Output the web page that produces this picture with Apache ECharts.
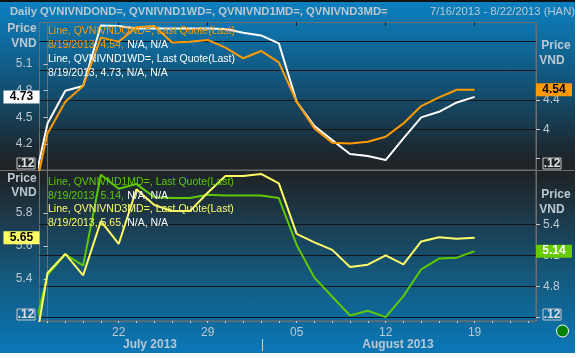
<!DOCTYPE html>
<html><head><meta charset="utf-8">
<script src="https://cdn.jsdelivr.net/npm/echarts@6/dist/echarts.min.js"></script>
<style>html,body{margin:0;padding:0;background:#fff}
#c{position:absolute;left:0;top:0;width:575px;height:353px;
background:linear-gradient(to bottom,#111 0,#111 2px,#0a80c0 2px,#0f6a9c 12%,#144a68 28%,#1c2a33 42%,#202224 48%,#1e2528 50%,#1c3a4c 62%,#14587c 78%,#0a78b8 100%)}</style>
</head><body><div id="c"></div>
<script>
const dates=['7/15','7/16','7/17','7/18','7/19','7/22','7/23','7/24','7/25','7/26','7/29','7/30','7/31','8/1','8/2','8/5','8/6','8/7','8/8','8/9','8/12','8/13','8/14','8/15','8/16','8/19','8/20','8/21','8/22'];
const tickLabels={ '7/22':'22','7/29':'29','8/5':'05','8/12':'12','8/19':'19' };
const ondValues=[2.835,3.945,4.377,4.591,5.251,5.196,5.392,5.41,5.183,5.196,5.219,5.114,4.969,5.069,4.914,4.377,4.013,3.818,3.808,3.831,3.899,4.081,4.318,4.436,4.54,4.54];
const w1Values=[3.517,4.432,4.80,4.852,5.534,5.527,5.50,5.50,5.50,5.50,5.50,5.493,5.452,5.422,5.332,4.676,4.402,4.244,4.087,4.065,4.02,4.263,4.50,4.563,4.668,4.73];
const m1Values=[4.2,4.91,5.11,5.0,5.877,5.742,5.787,5.661,5.652,5.652,5.684,5.677,5.677,5.677,5.652,5.2,4.884,4.7,4.519,4.565,4.503,4.706,4.965,5.068,5.077,5.14];
const m3Values=[4.789,5.435,5.551,5.421,5.751,5.612,5.945,5.849,5.812,5.812,5.924,6.026,6.026,6.038,5.981,5.673,5.622,5.576,5.472,5.486,5.543,5.488,5.627,5.653,5.643,5.65];
const seriesNames=['QVNIVNDOND=','QVNIVND1WD=','QVNIVND1MD=','QVNIVND3MD='];
const topGrid=[4,4.4,4.8,5.2], botGrid=[4.5,4.8,5.1,5.4];
const FONT='"Liberation Sans"',GREY='#bcc8d0';
const ORANGE='#ff9a00',WHITE='#ffffff',GREEN='#5fc800',YELLOW='#ffff66';
const XMIN=-0.45,XMAX=27.45;
const tickIdx=dates.slice(1).map((d,i)=>i);
const labelIdx=tickIdx.filter(i=>tickLabels[dates[i+1]]);
const xTop={type:'value',gridIndex:0,min:XMIN,max:XMAX,position:'top',splitLine:{show:false},
 axisLine:{show:false},axisTick:{show:true,inside:true,customValues:labelIdx,length:3,lineStyle:{color:'#111'}},axisLabel:{show:false}};
const xBot={type:'value',gridIndex:1,min:XMIN,max:XMAX,position:'bottom',splitLine:{show:false},
 axisLine:{show:true,onZero:false,lineStyle:{color:'#6e6e6e',width:1}},
 axisTick:{show:true,customValues:tickIdx,length:2,lineStyle:{color:'#d0d0d0'}},
 axisLabel:{show:true,customValues:labelIdx,color:GREY,fontFamily:FONT,fontSize:12,margin:6,formatter:v=>tickLabels[dates[v+1]]||''}};
function yAxis(gridIndex,pos,min,max,ticks,labels){return {type:'value',gridIndex,position:pos,min,max,
 axisLine:{show:true,lineStyle:{color:'#6e6e6e',width:1}},
 axisTick:{show:true,customValues:ticks,length:4,lineStyle:{color:'#c8c8c8'}},
 axisLabel:{show:true,customValues:labels,color:GREY,fontFamily:FONT,fontSize:12,margin:7,formatter:v=>String(v)},
 splitLine:{show:false}};}
function tag(x,v,side,bg,fg,txt){return {coord:[x,v],symbol:'rect',symbolSize:[36,13],symbolOffset:[side*18,0],itemStyle:{color:bg,borderWidth:0},
 label:{show:true,position:'inside',formatter:txt,color:fg,fontFamily:FONT,fontSize:12,fontWeight:'bold'}};}
function line(name,vals,xi,yi,color,t,z,grid){const s={name,type:'line',xAxisIndex:xi,yAxisIndex:yi,showSymbol:false,symbol:'none',z,clip:true,animation:false,
 data:vals.map((v,i)=>[i-1,v]),lineStyle:{color,width:2},itemStyle:{color},
 markPoint:{silent:true,animation:false,data:[t]}};
 if(grid)s.markLine={silent:true,animation:false,symbol:'none',label:{show:false},lineStyle:{color:'#151515',width:1,type:'solid'},data:grid.map(v=>({yAxis:v}))};
 return s;}
const LEG='10.5px '+FONT;
const text=(x,y,s,fill,extra)=>({type:'text',x,y,z:20,silent:true,style:Object.assign({text:s,fill,font:LEG,verticalAlign:'middle'},extra||{})});
const boldT=(x,y,s)=>text(x,y,s,GREY,{font:'bold 12px '+FONT,align:'center'});
const box=(x,y)=>[{type:'rect',x,y,z:20,silent:true,shape:{width:18,height:11},style:{fill:'transparent',stroke:'#c8c8c8',lineWidth:1}},
 text(x+9,y+6,'.12','#e0e0e0',{font:'bold 12px '+FONT,align:'center'})];
const rich2=(x,y,a,color)=>({type:'text',x,y,z:20,silent:true,style:{text:'{a|'+a+'} {b|N/A, N/A}',verticalAlign:'middle',rich:{a:{fill:color,font:LEG},b:{fill:'#fff',font:LEG}}}});
const chart=echarts.init(document.getElementById('c'),null,{renderer:'canvas',width:575,height:353});
const frame={show:true,borderColor:'#6e6e6e',borderWidth:1,backgroundColor:'transparent'};
chart.setOption({animation:false,backgroundColor:'transparent',
 grid:[Object.assign({left:39.5,right:39,top:22.5,height:147.5},frame),Object.assign({left:39.5,right:39,top:170.5,height:150.5},frame)],
 xAxis:[xTop,xBot],
 yAxis:[
  yAxis(0,'left',3.908,5.567,[4.2,4.5,4.8,5.1],[4.2,4.5,4.8,5.1]),
  yAxis(0,'right',3.446,5.457,[3.6,4,4.4],[4,4.4]),
  yAxis(1,'left',5.143,6.059,[5.4,5.6,5.8],[5.4,5.6,5.8]),
  yAxis(1,'right',4.466,5.918,[4.5,4.8,5.1,5.4],[4.8,5.1,5.4])
 ],
 series:[
  line(seriesNames[1],w1Values,0,0,WHITE,tag(XMIN,4.73,-1,'#ffffff','#000','4.73'),5),
  line(seriesNames[0],ondValues,0,1,ORANGE,tag(XMAX,4.54,1,ORANGE,'#000','4.54'),6,topGrid),
  line(seriesNames[2],m1Values,1,3,GREEN,tag(XMAX,5.14,1,'#66cc00','#fff','5.14'),5,botGrid),
  line(seriesNames[3],m3Values,1,2,YELLOW,tag(XMIN,5.65,-1,YELLOW,'#000','5.65'),6)
 ],
 graphic:[
  {type:'line',z:4,silent:true,shape:{x1:0,y1:170.5,x2:575,y2:170.5},style:{stroke:'#6e6e6e',lineWidth:1}},
  text(10,12,'Daily '+seriesNames.join(', '),GREY,{font:'bold 11.25px '+FONT}),
  text(430,12,'7/16/2013 - 8/22/2013 (HAN)',GREY,{font:'11.3px '+FONT}),
  boldT(22,29,'Price'),boldT(24,44,'VND'),boldT(556,46,'Price'),boldT(552,61,'VND'),
  boldT(22,179,'Price'),boldT(24,193,'VND'),boldT(556,195,'Price'),boldT(552,210,'VND'),
  text(48,31,'Line, '+seriesNames[0]+', Last Quote(Last)',ORANGE),
  rich2(48,45,'8/19/2013, 4.54,',ORANGE),
  text(48,59,'Line, '+seriesNames[1]+', Last Quote(Last)','#fff'),
  text(48,73,'8/19/2013, 4.73, N/A, N/A','#fff'),
  text(48,182,'Line, '+seriesNames[2]+', Last Quote(Last)',GREEN),
  rich2(48,196,'8/19/2013, 5.14,',GREEN),
  text(48,209,'Line, '+seriesNames[3]+', Last Quote(Last)',YELLOW),
  rich2(48,223,'8/19/2013, 5.65,',YELLOW),
  ...box(17,158),...box(543,158),...box(17,309),...box(543,309),
  text(150,345,'July 2013',GREY,{font:'bold 12px '+FONT,align:'center'}),
  text(398,345,'August 2013',GREY,{font:'bold 12px '+FONT,align:'center'}),
  {type:'line',z:20,silent:true,shape:{x1:262.5,y1:339,x2:262.5,y2:351},style:{stroke:'#d0d0d0',lineWidth:1}},
  {type:'circle',z:20,silent:true,shape:{cx:562.5,cy:331,r:6},style:{fill:'#008000',stroke:'#fff',lineWidth:1}}
 ]});
</script></body></html>
